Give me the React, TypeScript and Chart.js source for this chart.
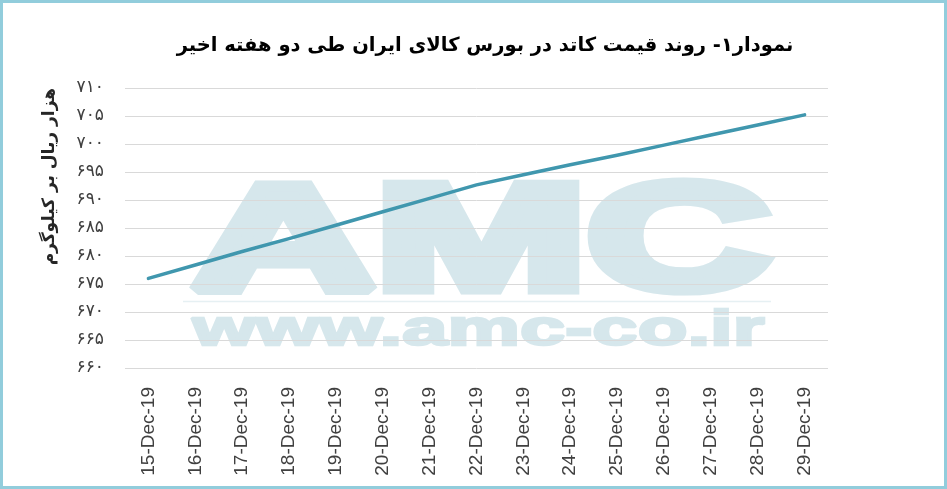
import React, { useEffect, useRef } from "react";
import { Chart, registerables } from "chart.js";

Chart.register(...registerables);

const categories = [
  "15-Dec-19", "16-Dec-19", "17-Dec-19", "18-Dec-19", "19-Dec-19",
  "20-Dec-19", "21-Dec-19", "22-Dec-19", "23-Dec-19", "24-Dec-19",
  "25-Dec-19", "26-Dec-19", "27-Dec-19", "28-Dec-19", "29-Dec-19",
];
const cathodePrice = [
  676.0, 678.4, 680.8, 683.1, 685.5, 687.9, 690.3, 692.7,
  694.5, 696.3, 698.0, 699.8, 701.6, 703.4, 705.2,
];
const yMin = 660;
const yMax = 710;
const yStep = 5;
const titleText = "نمودار۱- روند قیمت کاتد در بورس کالای ایران طی دو هفته اخیر";
const yAxisTitle = "هزار ریال بر کیلوگرم";
const watermarkBig = "AMC";
const watermarkSmall = "www.amc-co.ir";

const persianDigits = "۰۱۲۳۴۵۶۷۸۹";
const toPersian = (v: number | string) =>
  String(v).replace(/\d/g, (d) => persianDigits[Number(d)]);

const watermarkPlugin = {
  id: "watermark",
  beforeDraw(chart: any) {
    const ctx = chart.ctx as CanvasRenderingContext2D;
    const color = "#d6e7ec";
    const drawFit = (
      text: string, font: string, x0: number, x1: number,
      baseY: number, height: number, lw: number
    ) => {
      ctx.save();
      ctx.font = font;
      ctx.textBaseline = "alphabetic";
      ctx.textAlign = "left";
      const m = ctx.measureText(text);
      const w = m.actualBoundingBoxLeft + m.actualBoundingBoxRight + lw;
      const h = m.actualBoundingBoxAscent + lw;
      const sx = (x1 - x0) / w;
      const sy = height / h;
      ctx.translate(x0, baseY);
      ctx.scale(sx, sy);
      ctx.fillStyle = color;
      ctx.strokeStyle = color;
      ctx.lineWidth = lw;
      ctx.lineJoin = "miter";
      ctx.miterLimit = 1.5;
      const tx = m.actualBoundingBoxLeft + lw / 2;
      const ty = -lw / 2;
      ctx.fillText(text, tx, ty);
      if (lw > 0) ctx.strokeText(text, tx, ty);
      ctx.restore();
    };
    drawFit(watermarkBig, "bold 160px 'Liberation Sans'", 187, 774, 295, 116, 12);
    ctx.save();
    ctx.strokeStyle = "#e6f0f3";
    ctx.lineWidth = 1.5;
    ctx.beginPath();
    ctx.moveTo(183, 301.5);
    ctx.lineTo(771, 301.5);
    ctx.stroke();
    ctx.restore();
    drawFit(watermarkSmall, "bold 60px 'Liberation Sans'", 189, 766, 346, 39, 3);
  },
};

const titlePlugin = {
  id: "customTitle",
  afterDraw(chart: any) {
    const ctx = chart.ctx as CanvasRenderingContext2D;
    ctx.save();
    ctx.font = "bold 19.5px 'DejaVu Sans', sans-serif";
    ctx.fillStyle = "#000000";
    ctx.textAlign = "center";
    ctx.textBaseline = "middle";
    ctx.fillText(titleText, 485, 46);
    ctx.restore();
  },
};

export default function App() {
  const ref = useRef<HTMLCanvasElement | null>(null);

  useEffect(() => {
    if (!ref.current) return;
    const chart = new Chart(ref.current, {
      type: "line",
      data: {
        labels: categories,
        datasets: [
          {
            data: cathodePrice,
            borderColor: "#4097ae",
            borderWidth: 3.5,
            pointRadius: 0,
            tension: 0,
            borderCapStyle: "round",
            fill: false,
          },
        ],
      },
      options: {
        animation: false,
        responsive: false,
        maintainAspectRatio: false,
        layout: { padding: { left: 0, right: 119, top: 88, bottom: 0 } },
        plugins: {
          legend: { display: false },
          tooltip: { enabled: false },
          title: { display: false },
        },
        scales: {
          x: {
            offset: true,
            grid: { display: false },
            border: { display: false },
            ticks: {
              color: "#404040",
              font: { family: "'Liberation Sans', sans-serif", size: 19 },
              maxRotation: 90,
              minRotation: 90,
              padding: 11,
              autoSkip: false,
            },
            afterFit: (scale: any) => {
              scale.height = 121;
            },
          },
          y: {
            min: yMin,
            max: yMax,
            grid: { color: "#d9d9d9", lineWidth: 1, drawTicks: false },
            border: { display: false },
            ticks: {
              stepSize: yStep,
              color: "#404040",
              padding: 21,
              font: { family: "'DejaVu Sans', sans-serif", size: 17 },
              callback: (v: any) => toPersian(v),
            },
            title: {
              display: true,
              text: yAxisTitle,
              align: "end",
              color: "#262626",
              font: { family: "'DejaVu Sans', sans-serif", size: 17, weight: "bold" },
              padding: { top: 39, bottom: 0 },
            },
            afterFit: (scale: any) => {
              scale.width = 125;
            },
          },
        },
      },
      plugins: [watermarkPlugin, titlePlugin],
    } as any);
    return () => chart.destroy();
  }, []);

  return (
    <div style={{ position: "fixed", left: 0, top: 0, width: 947, height: 489, background: "#ffffff" }}>
      <canvas ref={ref} width={947} height={489} style={{ position: "absolute", left: 0, top: 0, width: 947, height: 489 }} />
      <div
        style={{
          position: "absolute",
          left: 0,
          top: 0,
          width: 947,
          height: 489,
          boxSizing: "border-box",
          border: "3px solid #92cddc",
          pointerEvents: "none",
        }}
      />
    </div>
  );
}
